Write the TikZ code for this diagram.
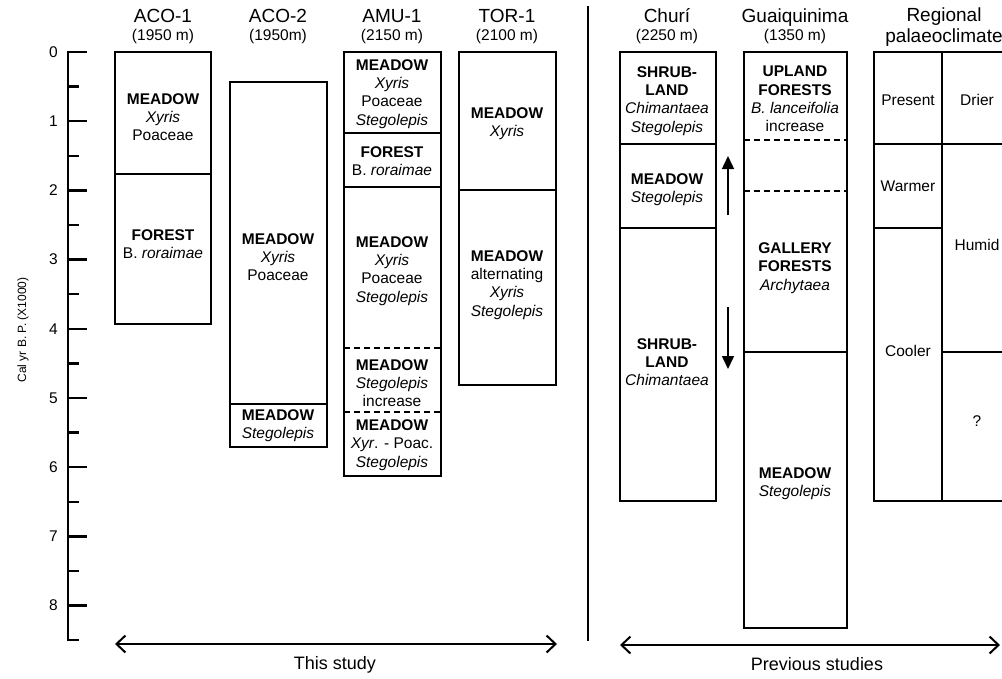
\documentclass[tikz,border=0pt]{standalone}
\usepackage{fontspec}
\setmainfont{Liberation Sans}
\usetikzlibrary{arrows.meta}
\begin{document}
\begin{tikzpicture}[x=1pt,y=-1pt,
  box/.style={draw, line width=1.8pt},
  sepline/.style={line width=1.8pt},
  thickline/.style={line width=2.4pt},
  dsh/.style={line width=1.5pt, dash pattern=on 6pt off 4pt},
  lbl/.style={align=center, font=\fontsize{15.5}{18.3}\selectfont, inner sep=0pt},
  ttl/.style={font=\fontsize{19}{22}\selectfont, inner sep=0pt, anchor=base},
  subttl/.style={font=\fontsize{15.5}{18}\selectfont, inner sep=0pt, anchor=base},
  num/.style={font=\fontsize{15.5}{18}\selectfont, inner sep=0pt, anchor=east},
  bottomlbl/.style={font=\fontsize{18}{21}\selectfont, inner sep=0pt, anchor=base},
  span/.style={line width=2pt, {Straight Barb[length=9pt,width=17pt]}-{Straight Barb[length=9pt,width=17pt]}},
  trend/.style={line width=1.5pt, -{Triangle[length=13pt,width=12pt]}}
]
\useasboundingbox (0,0) rectangle (1002,678);

% ---------- time axis ----------
\draw[line width=2.4pt] (68,52) -- (68,640);
\foreach \i in {0,...,8}{
  \draw[line width=2.4pt] (67,{52+69.2*\i}) -- (87,{52+69.2*\i});
  \node[num] (n\i) at (58,{52+69.2*\i}) {\i};
}
\foreach \i in {0,...,8}{
  \draw[line width=2.4pt] (67,{52+69.2*(\i+0.5)}) -- (79,{52+69.2*(\i+0.5)});
}
\node[rotate=90, font=\fontsize{12}{14}\selectfont, inner sep=0pt] (ytitle) at (23,330) {Cal yr B. P. (X1000)};

% ---------- titles ----------
\node[ttl] (t1) at (163,22) {ACO-1};
\node[subttl] (s1) at (163,40) {(1950 m)};
\node[ttl] (t2) at (278,22) {ACO-2};
\node[subttl] (s2) at (278,40) {(1950m)};
\node[ttl] (t3) at (392,22) {AMU-1};
\node[subttl] (s3) at (392,40) {(2150 m)};
\node[ttl] (t4) at (507,22) {TOR-1};
\node[subttl] (s4) at (507,40) {(2100 m)};
\node[ttl] (t5) at (667,22) {Churí};
\node[subttl] (s5) at (667,40) {(2250 m)};
\node[ttl] (t6) at (795,22) {Guaiquinima};
\node[subttl] (s6) at (795,40) {(1350 m)};
\node[ttl] (t7) at (944,21) {Regional};
\node[ttl] (s7) at (944,42) {palaeoclimate};

% ---------- ACO-1 ----------
\draw[box] (115,52) rectangle (211,324);
\draw[sepline] (115,174) -- (211,174);
\node[lbl] (a1) at (163,117) {\textbf{MEADOW}\\\textit{Xyris}\\Poaceae};
\node[lbl] (a2) at (163,244) {\textbf{FOREST}\\B. \textit{roraimae}};

% ---------- ACO-2 ----------
\draw[box] (230,82) rectangle (327,447);
\draw[sepline] (230,404) -- (327,404);
\node[lbl] (b1) at (278,257) {\textbf{MEADOW}\\\textit{Xyris}\\Poaceae};
\node[lbl] (b2) at (278,426) {\textbf{MEADOW}\\\textit{Stegolepis}};

% ---------- AMU-1 ----------
\draw[box] (344,52) rectangle (441,476);
\draw[sepline] (344,133) -- (441,133);
\draw[sepline] (344,187) -- (441,187);
\draw[dsh] (344,348) -- (441,348);
\draw[dsh] (344,412) -- (441,412);
\node[lbl] (c1) at (392,94) {\textbf{MEADOW}\\\textit{Xyris}\\Poaceae\\\textit{Stegolepis}};
\node[lbl] (c2) at (392,161) {\textbf{FOREST}\\B. \textit{roraimae}};
\node[lbl] (c3) at (392,271) {\textbf{MEADOW}\\\textit{Xyris}\\Poaceae\\\textit{Stegolepis}};
\node[lbl] (c4) at (392,383) {\textbf{MEADOW}\\\textit{Stegolepis}\\increase};
\node[lbl] (c5) at (392,445) {\textbf{MEADOW}\\\textit{Xyr}. - Poac.\\\textit{Stegolepis}};

% ---------- TOR-1 ----------
\draw[box] (459,52) rectangle (556,385);
\draw[sepline] (459,190) -- (556,190);
\node[lbl] (d1) at (507,124) {\textbf{MEADOW}\\\textit{Xyris}};
\node[lbl] (d2) at (507,285) {\textbf{MEADOW}\\alternating\\\textit{Xyris}\\\textit{Stegolepis}};

% ---------- separator ----------
\draw[line width=2pt] (588,6) -- (588,641);

% ---------- Churi ----------
\draw[box] (620,52) rectangle (716,501);
\draw[sepline] (620,144) -- (716,144);
\draw[sepline] (620,228) -- (716,228);
\node[lbl] (e1) at (667,101) {\textbf{SHRUB-}\\\textbf{LAND}\\\textit{Chimantaea}\\\textit{Stegolepis}};
\node[lbl] (e2) at (667,190) {\textbf{MEADOW}\\\textit{Stegolepis}};
\node[lbl] (e3) at (667,362) {\textbf{SHRUB-}\\\textbf{LAND}\\\textit{Chimantaea}};

\coordinate (upfrom) at (728,215);
\coordinate (upto) at (728,156);
\coordinate (downfrom) at (728,307);
\coordinate (downto) at (728,369);
\draw[trend] (upfrom) -- (upto);
\draw[trend] (downfrom) -- (downto);

% ---------- Guaiquinima ----------
\draw[box] (744,52) rectangle (847,628);
\draw[dsh] (744,140) -- (847,140);
\draw[dsh] (744,191) -- (847,191);
\draw[sepline] (744,352) -- (847,352);
\node[lbl] (g1) at (795,99) {\textbf{UPLAND}\\\textbf{FORESTS}\\\textit{B. lanceifolia}\\increase};
\node[lbl] (g2) at (795,268) {\textbf{GALLERY}\\\textbf{FORESTS}\\\textit{Archytaea}};
\node[lbl] (g3) at (795,484) {\textbf{MEADOW}\\\textit{Stegolepis}};

% ---------- Regional palaeoclimate ----------
\draw[box] (874,52) rectangle (1012,501);
\draw[sepline] (942,52) -- (942,501);
\draw[sepline] (874,144) -- (1012,144);
\draw[sepline] (874,228) -- (942,228);
\draw[thickline] (942,352) -- (1012,352);
\node[lbl] (r1) at (908,100) {Present};
\node[lbl] (r2) at (908,186) {Warmer};
\node[lbl] (r3) at (908,351) {Cooler};
\node[lbl] (r4) at (977,100) {Drier};
\node[lbl] (r5) at (977,245) {Humid};
\node[lbl] (r6) at (977,421) {?};

% ---------- bottom spans ----------
\coordinate (ts1) at (115,644);
\coordinate (ts2) at (557,644);
\draw[span] (ts1) -- (ts2);
\node[bottomlbl] (thisstudy) at (335,669) {This study};
\coordinate (ps1) at (620,645);
\coordinate (ps2) at (1000,645);
\draw[span] (ps1) -- (ps2);
\node[bottomlbl] (prevstudies) at (817,670) {Previous studies};
\end{tikzpicture}
\end{document}
